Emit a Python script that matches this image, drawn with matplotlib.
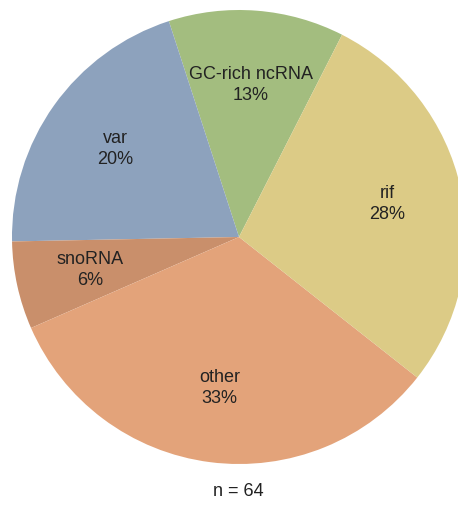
import matplotlib
matplotlib.use("Agg")
import matplotlib.pyplot as plt

# counts per category (n = 64)
labels = ["GC-rich ncRNA", "var", "snoRNA", "other", "rif"]
counts = [8, 13, 4, 21, 18]
colors = ["#a3bd7f", "#8da2bd", "#c98f6b", "#e3a37a", "#dccb86"]
total = sum(counts)

plt.rcParams["font.family"] = ["Liberation Sans", "DejaVu Sans"]

W, H = 458, 507
fig = plt.figure(figsize=(W / 100, H / 100), dpi=100)
# pie spans x 12..466, y 10..464 (pixels), slightly cut on the right
ax = fig.add_axes([12 / W, (H - 464) / H, 454 / W, 454 / H])

it = iter(labels)
def fmt(p):
    return f"{next(it)}\n{int(p + 0.5)}%"

wedges, texts, autotexts = ax.pie(
    counts, colors=colors, startangle=63, counterclock=True,
    autopct=fmt, pctdistance=0.67, radius=1,
    textprops=dict(fontsize=13, color="#222222", linespacing=1.3),
)
ax.set_xlim(-1, 1)
ax.set_ylim(-1, 1)
ax.set_aspect("auto")
ax.axis("off")

fig.text(238 / W, 1 - 492 / H, f"n = {total}", ha="center", va="center",
         fontsize=13, color="#222222")

fig.savefig("out.png", dpi=100)
